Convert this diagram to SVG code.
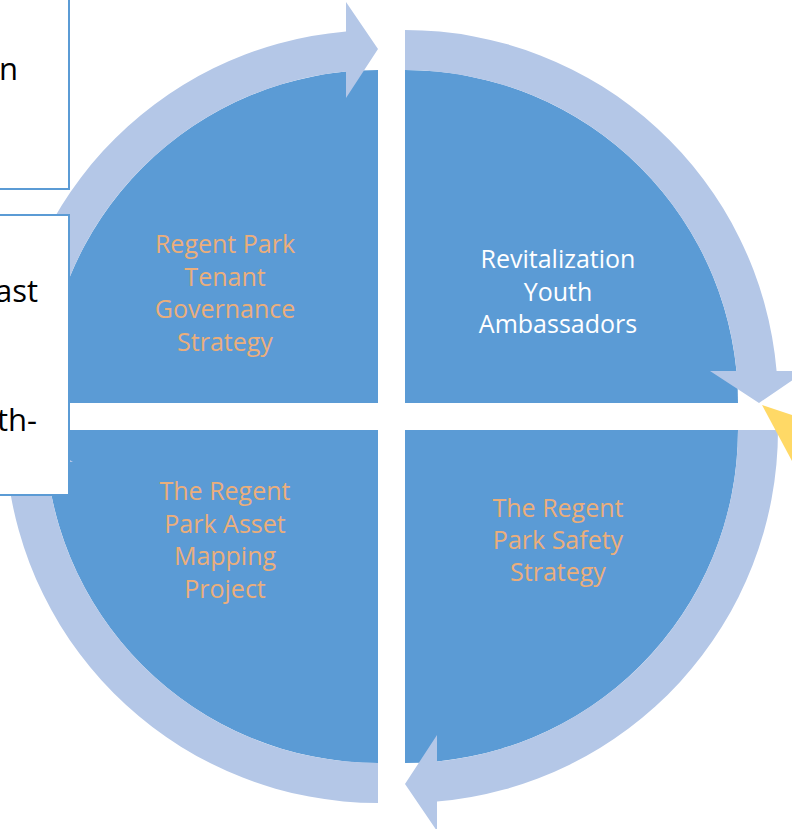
<svg xmlns="http://www.w3.org/2000/svg" width="792" height="829" viewBox="0 0 792 829">
<style>
.pie{fill:#5B9BD5}
.ring{fill:#B4C7E7}
.lbl{font-family:"Open Sans","Noto Sans",sans-serif;font-size:25px;text-anchor:middle;fill:#EBAE7B}
.lbl.w{fill:#FFFFFF}
.box{fill:#FFFFFF;stroke:#5B9BD5;stroke-width:2}
.bt{font-family:"Open Sans","Noto Sans",sans-serif;font-size:31px;text-anchor:end;fill:#000000}
</style>
<defs>
<path id="arc" d="M0,-373 A373,373 0 0 1 371.6,-32 L401,-32 L354,0 L305,-32 L331.5,-32 A333,333 0 0 0 0,-333 Z"/>
</defs>
<rect width="792" height="829" fill="#FFFFFF"/>
<g id="node-tenant-governance">
<path class="pie" d="M378,403 L45,403 A333,333 0 0 1 378,70 Z"/>
<text class="lbl" x="225" y="253">Regent Park</text>
<text class="lbl" x="225" y="285.5">Tenant</text>
<text class="lbl" x="225" y="318">Governance</text>
<text class="lbl" x="225" y="350.5">Strategy</text>
</g>
<g id="node-youth-ambassadors">
<path class="pie" d="M405,403 L405,70 A333,333 0 0 1 738,403 Z"/>
<text class="lbl w" x="558" y="268">Revitalization</text>
<text class="lbl w" x="558" y="300.5">Youth</text>
<text class="lbl w" x="558" y="333">Ambassadors</text>
</g>
<g id="node-safety-strategy">
<path class="pie" d="M405,430 L738,430 A333,333 0 0 1 405,763 Z"/>
<text class="lbl" x="558" y="516.5">The Regent</text>
<text class="lbl" x="558" y="548.5">Park Safety</text>
<text class="lbl" x="558" y="580.5">Strategy</text>
</g>
<g id="node-asset-mapping">
<path class="pie" d="M378,430 L378,763 A333,333 0 0 1 45,430 Z"/>
<text class="lbl" x="225" y="500">The Regent</text>
<text class="lbl" x="225" y="532.5">Park Asset</text>
<text class="lbl" x="225" y="565">Mapping</text>
<text class="lbl" x="225" y="597.5">Project</text>
</g>
<g id="connectors">
<use href="#arc" class="ring" transform="translate(378,403) rotate(-90)"/>
<use href="#arc" class="ring" transform="translate(405,403)"/>
<use href="#arc" class="ring" transform="translate(405,430) rotate(90)"/>
<use href="#arc" class="ring" transform="translate(378,430) rotate(180)"/>
</g>
<g id="node-yellow">
<polygon points="762,405 792,415 792,461" fill="#FFD966"/>
</g>
<g id="node-textbox-1">
<rect class="box" x="-5" y="-5" width="74" height="194"/>
<text class="bt" x="18" y="80">n</text>
</g>
<g id="node-textbox-2">
<rect class="box" x="-5" y="215" width="74" height="280"/>
<text class="bt" x="38" y="302">ast</text>
<text class="bt" x="37" y="431">th-</text>
</g>
</svg>
